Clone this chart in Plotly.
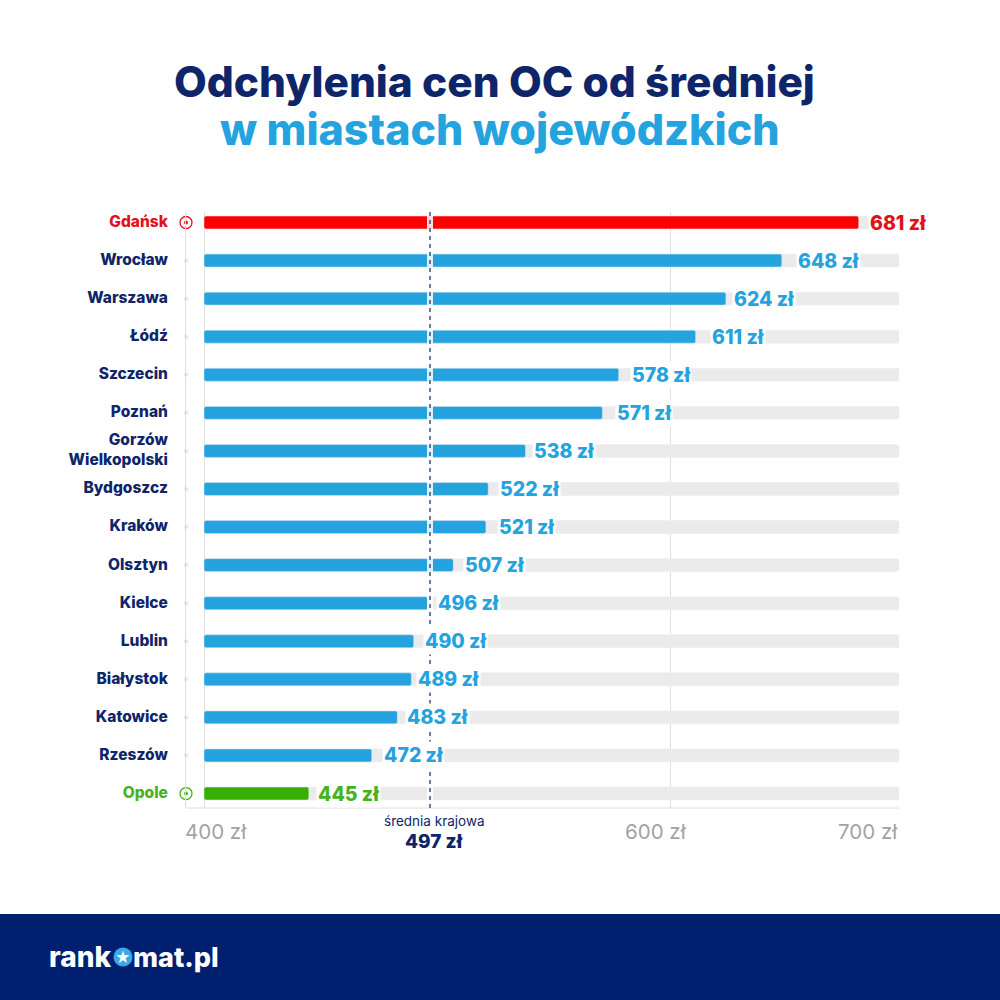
import plotly.graph_objects as go

cities = ["Gdańsk", "Wrocław", "Warszawa", "Łódź", "Szczecin", "Poznań",
          "Gorzów<br>Wielkopolski", "Bydgoszcz", "Kraków", "Olsztyn", "Kielce",
          "Lublin", "Białystok", "Katowice", "Rzeszów", "Opole"]
prices = [681, 648, 624, 611, 578, 571, 538, 522, 521, 507, 496, 490, 489, 483, 472, 445]
axis_ticks = [400, 600, 700]
axis_grid = [400, 600]
average = 497
track_end = 698.3

NAVY = "#0e2569"
BLUE = "#25a3de"
RED = "#fe0000"
RED_TXT = "#e2101c"
GREEN = "#36b000"
GREEN_TXT = "#47b220"
FONT = "Inter"

bar_colors = [RED if c == "Gdańsk" else GREEN if c == "Opole" else BLUE for c in cities]
label_colors = [RED_TXT if c == "Gdańsk" else GREEN_TXT if c == "Opole" else BLUE for c in cities]
name_colors = [RED_TXT if c == "Gdańsk" else GREEN_TXT if c == "Opole" else NAVY for c in cities]

# pixel gap between bar end and its label, as laid out in the picture
label_gaps = [11, 16, 8, 16, 13, 15, 8, 12, 13, 12, 10, 11, 7, 10, 12, 9]
# pixel offsets of the bottom axis labels from their value
tick_shifts = [12, -14, -35]

x_min = 400 - (204 - 186) / 2.33

fig = go.Figure()
fig.add_trace(go.Bar(y=cities, x=[track_end - 400] * len(cities), base=400, orientation="h",
                     marker_color="#ebebeb", width=0.34, hoverinfo="skip"))
fig.add_trace(go.Bar(y=cities, x=[p - 400 for p in prices], base=400, orientation="h",
                     marker_color=bar_colors, width=0.34))
others = [c for c in cities if c not in ("Gdańsk", "Opole")]
fig.add_trace(go.Scatter(y=others, x=[x_min] * len(others), mode="markers", cliponaxis=False,
                         marker=dict(color="#e2e2e2", size=4)))
ends = ["Gdańsk", "Opole"]
fig.add_trace(go.Scatter(y=ends, x=[x_min, x_min], mode="markers", cliponaxis=False,
                         marker=dict(color="white", size=12, line=dict(width=1.3, color=[RED_TXT, GREEN_TXT]))))
fig.add_trace(go.Scatter(y=ends, x=[x_min, x_min], mode="markers", cliponaxis=False,
                         marker=dict(color=[RED_TXT, GREEN_TXT], size=4)))

# white strip and dashed line for the national average
fig.add_shape(type="line", x0=average, x1=average, y0=0, y1=1, yref="y domain",
              line=dict(color="rgba(255,255,255,0.85)", width=6))
fig.add_shape(type="line", x0=average, x1=average, y0=0, y1=1, yref="y domain",
              line=dict(color="#3a4f80", width=1.5, dash="4px,4px"))
# bottom axis line stops at the end of the grey tracks
fig.add_shape(type="line", x0=x_min, x1=track_end, y0=0, y1=0, yref="y domain",
              line=dict(color="#dedede", width=1), layer="below")

# footer band and logo
fig.add_shape(type="rect", xref="paper", yref="paper", x0=0, x1=1, y0=0, y1=0.086,
              fillcolor="#00206f", line_width=0, layer="below")
fig.add_shape(type="circle", xref="paper", yref="paper", x0=0.1135, x1=0.1325, y0=0.0335, y1=0.0525,
              fillcolor="#3aa9e4", line_width=0)


def note(text, x, y, size, color, weight=700, xanchor="center", **kw):
    fig.add_annotation(text=text, x=x, y=y, xref=kw.pop("xref", "paper"), yref=kw.pop("yref", "paper"),
                       showarrow=False, xanchor=xanchor, yanchor="middle",
                       font=dict(family=FONT, size=size, color=color, weight=weight), **kw)


note("Odchylenia cen OC od średniej", 0.494, 0.918, 42.4, NAVY, 800)
note("w miastach wojewódzkich", 0.5, 0.871, 43, BLUE, 800)

for city, price, color, gap in zip(cities, prices, label_colors, label_gaps):
    note(f"{price} zł", price, city, 19.5, color, 800, xanchor="left", xref="x", yref="y",
         xshift=gap - 2, yshift=0, bgcolor="white", borderpad=1)

for value, shift in zip(axis_ticks, tick_shifts):
    note(f"{value} zł", value, 0.169, 20.5, "#a3a3a3", 400, xref="x", xshift=shift)

note("średnia krajowa", average, 0.179, 13.5, NAVY, 400, xref="x", xshift=4)
note(f"{average} zł", average, 0.159, 19, NAVY, 800, xref="x", xshift=4)

note("rank", 0.113, 0.043, 28, "white", 800, xanchor="right")
note("mat.pl", 0.131, 0.043, 27, "white", 800, xanchor="left")
note("★", 0.123, 0.043, 15, "white", 400)

ticktext = [f'<span style="color:{c}">{n}</span>' for n, c in zip(cities, name_colors)]

fig.update_layout(
    width=1000,
    height=1000,
    margin=dict(l=0, r=0, t=0, b=0),
    paper_bgcolor="white",
    plot_bgcolor="white",
    showlegend=False,
    barmode="overlay",
    barcornerradius=2,
    font=dict(family=FONT),
    xaxis=dict(domain=[0.186, 0.903], range=[x_min, 700], tickvals=axis_grid, showticklabels=False,
               showgrid=True, gridcolor="#e0e0e0", gridwidth=1, zeroline=False,
               showline=False, ticks=""),
    yaxis=dict(domain=[0.192, 0.788], range=[15.38, -0.276], type="category",
               categoryorder="array", categoryarray=cities,
               tickmode="array", tickvals=cities, ticktext=ticktext, ticks="",
               tickfont=dict(family=FONT, size=15.5, weight=800), ticklabelstandoff=14,
               ticklabelshift=1,
               showgrid=False, zeroline=False, showline=True, linecolor="#dedede", linewidth=1),
)

fig.write_html("out.html", config={"displayModeBar": False},
               post_script="document.body.style.margin='0';")
